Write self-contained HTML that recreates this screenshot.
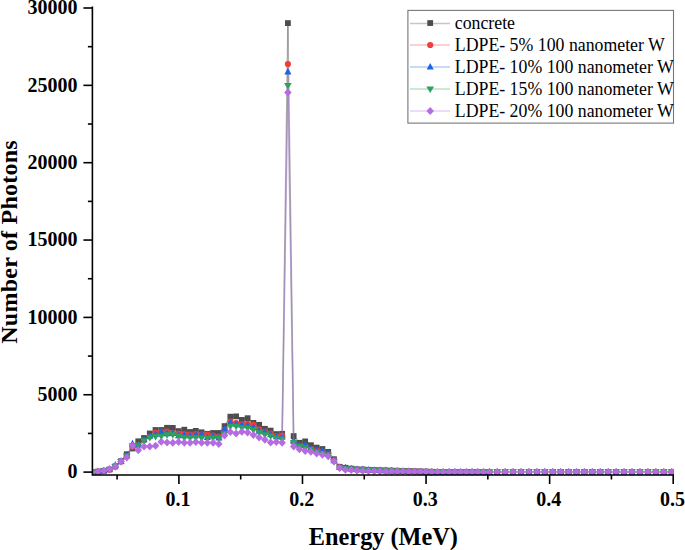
<!DOCTYPE html>
<html><head><meta charset="utf-8"><style>
html,body{margin:0;padding:0;background:#fff;}
svg{display:block;}
.tl{font-family:"Liberation Serif",serif;font-weight:bold;font-size:20px;fill:#000;stroke:none;}
.lg{font-family:"Liberation Serif",serif;font-size:17.8px;fill:#000;stroke:none;}
.ti{font-family:"Liberation Serif",serif;font-weight:bold;font-size:24.5px;fill:#000;stroke:none;}
</style></head><body>
<svg width="685" height="550" viewBox="0 0 685 550">
<rect width="685" height="550" fill="#fff"/>
<defs><clipPath id="pa"><rect x="92.4" y="0" width="581.30" height="475.60"/></clipPath></defs>
<g clip-path="url(#pa)">
<g fill="none" stroke="#4d4d4d" stroke-opacity="0.4" stroke-width="1.5"><path d="M92.23,472.20L97.98,471.60"/><path d="M97.98,471.60L103.74,470.80"/><path d="M103.74,470.80L109.49,469.50"/><path d="M109.49,469.50L115.25,466.40"/><path d="M115.25,466.40L121.00,461.20"/><path d="M121.00,461.20L126.76,454.20"/><path d="M126.76,454.20L132.51,448.50"/><path d="M132.51,448.50L138.27,441.30"/><path d="M138.27,441.30L144.02,438.00"/><path d="M144.02,438.00L149.78,433.50"/><path d="M149.78,433.50L155.53,430.00"/><path d="M155.53,430.00L161.29,430.00"/><path d="M161.29,430.00L167.04,427.80"/><path d="M167.04,427.80L172.80,427.90"/><path d="M172.80,427.90L178.55,431.10"/><path d="M178.55,431.10L184.31,429.70"/><path d="M184.31,429.70L190.06,432.00"/><path d="M190.06,432.00L195.82,430.90"/><path d="M195.82,430.90L201.57,432.30"/><path d="M201.57,432.30L207.33,433.80"/><path d="M207.33,433.80L213.08,433.00"/><path d="M213.08,433.00L218.84,433.00"/><path d="M218.84,433.00L224.59,426.10"/><path d="M224.59,426.10L230.35,416.70"/><path d="M230.35,416.70L236.10,416.40"/><path d="M236.10,416.40L241.86,419.90"/><path d="M241.86,419.90L247.61,418.20"/><path d="M247.61,418.20L253.37,422.90"/><path d="M253.37,422.90L259.12,424.80"/><path d="M259.12,424.80L264.88,428.80"/><path d="M264.88,428.80L270.63,430.60"/><path d="M270.63,430.60L276.39,434.10"/><path d="M276.39,434.10L282.14,433.80"/><path d="M282.14,433.80L287.90,23.10"/><path d="M287.90,23.10L293.65,436.10"/><path d="M293.65,436.10L299.41,442.80"/><path d="M299.41,442.80L305.16,441.40"/><path d="M305.16,441.40L310.92,445.20"/><path d="M310.92,445.20L316.67,447.60"/><path d="M316.67,447.60L322.43,449.00"/><path d="M322.43,449.00L328.18,451.90"/><path d="M328.18,451.90L333.94,459.20"/><path d="M333.94,459.20L339.69,466.80"/><path d="M339.69,466.80L345.45,467.80"/><path d="M345.45,467.80L351.20,468.60"/><path d="M351.20,468.60L356.96,469.30"/><path d="M356.96,469.30L362.71,469.50"/><path d="M362.71,469.50L368.47,469.80"/><path d="M368.47,469.80L374.22,470.07"/><path d="M374.22,470.07L379.98,470.23"/><path d="M379.98,470.23L385.73,470.40"/><path d="M385.73,470.40L391.49,470.57"/><path d="M391.49,470.57L397.25,470.73"/><path d="M397.25,470.73L403.00,470.90"/><path d="M403.00,470.90L408.75,471.07"/><path d="M408.75,471.07L414.51,471.23"/><path d="M414.51,471.23L420.26,471.40"/><path d="M420.26,471.40L426.02,471.57"/><path d="M426.02,471.57L431.77,471.73"/><path d="M431.77,471.73L437.53,471.90"/><path d="M437.53,471.90L443.28,471.90"/><path d="M443.28,471.90L449.04,471.90"/><path d="M449.04,471.90L454.79,471.90"/><path d="M454.79,471.90L460.55,471.90"/><path d="M460.55,471.90L466.30,471.90"/><path d="M466.30,471.90L472.06,471.90"/><path d="M472.06,471.90L477.81,471.90"/><path d="M477.81,471.90L483.57,471.90"/><path d="M483.57,471.90L489.32,471.90"/><path d="M489.32,471.90L497.23,471.90"/><path d="M497.23,471.90L505.16,471.90"/><path d="M505.16,471.90L513.09,471.90"/><path d="M513.09,471.90L521.02,471.90"/><path d="M521.02,471.90L528.95,471.90"/><path d="M528.95,471.90L536.88,471.90"/><path d="M536.88,471.90L544.81,471.90"/><path d="M544.81,471.90L552.74,471.90"/><path d="M552.74,471.90L560.67,471.90"/><path d="M560.67,471.90L568.60,471.90"/><path d="M568.60,471.90L576.53,471.90"/><path d="M576.53,471.90L584.46,471.90"/><path d="M584.46,471.90L592.39,471.90"/><path d="M592.39,471.90L600.32,471.90"/><path d="M600.32,471.90L608.25,471.90"/><path d="M608.25,471.90L616.18,471.90"/><path d="M616.18,471.90L624.11,471.90"/><path d="M624.11,471.90L632.04,471.90"/><path d="M632.04,471.90L639.97,471.90"/><path d="M639.97,471.90L647.90,471.90"/><path d="M647.90,471.90L655.83,471.90"/><path d="M655.83,471.90L663.76,471.90"/><path d="M663.76,471.90L671.69,471.90"/></g>
<rect x="89.33" y="469.30" width="5.80" height="5.80" fill="#4d4d4d"/><rect x="95.08" y="468.70" width="5.80" height="5.80" fill="#4d4d4d"/><rect x="100.84" y="467.90" width="5.80" height="5.80" fill="#4d4d4d"/><rect x="106.59" y="466.60" width="5.80" height="5.80" fill="#4d4d4d"/><rect x="112.35" y="463.50" width="5.80" height="5.80" fill="#4d4d4d"/><rect x="118.10" y="458.30" width="5.80" height="5.80" fill="#4d4d4d"/><rect x="123.86" y="451.30" width="5.80" height="5.80" fill="#4d4d4d"/><rect x="129.61" y="445.60" width="5.80" height="5.80" fill="#4d4d4d"/><rect x="135.37" y="438.40" width="5.80" height="5.80" fill="#4d4d4d"/><rect x="141.12" y="435.10" width="5.80" height="5.80" fill="#4d4d4d"/><rect x="146.88" y="430.60" width="5.80" height="5.80" fill="#4d4d4d"/><rect x="152.63" y="427.10" width="5.80" height="5.80" fill="#4d4d4d"/><rect x="158.39" y="427.10" width="5.80" height="5.80" fill="#4d4d4d"/><rect x="164.14" y="424.90" width="5.80" height="5.80" fill="#4d4d4d"/><rect x="169.90" y="425.00" width="5.80" height="5.80" fill="#4d4d4d"/><rect x="175.65" y="428.20" width="5.80" height="5.80" fill="#4d4d4d"/><rect x="181.41" y="426.80" width="5.80" height="5.80" fill="#4d4d4d"/><rect x="187.16" y="429.10" width="5.80" height="5.80" fill="#4d4d4d"/><rect x="192.92" y="428.00" width="5.80" height="5.80" fill="#4d4d4d"/><rect x="198.67" y="429.40" width="5.80" height="5.80" fill="#4d4d4d"/><rect x="204.43" y="430.90" width="5.80" height="5.80" fill="#4d4d4d"/><rect x="210.18" y="430.10" width="5.80" height="5.80" fill="#4d4d4d"/><rect x="215.94" y="430.10" width="5.80" height="5.80" fill="#4d4d4d"/><rect x="221.69" y="423.20" width="5.80" height="5.80" fill="#4d4d4d"/><rect x="227.45" y="413.80" width="5.80" height="5.80" fill="#4d4d4d"/><rect x="233.20" y="413.50" width="5.80" height="5.80" fill="#4d4d4d"/><rect x="238.96" y="417.00" width="5.80" height="5.80" fill="#4d4d4d"/><rect x="244.71" y="415.30" width="5.80" height="5.80" fill="#4d4d4d"/><rect x="250.47" y="420.00" width="5.80" height="5.80" fill="#4d4d4d"/><rect x="256.23" y="421.90" width="5.80" height="5.80" fill="#4d4d4d"/><rect x="261.98" y="425.90" width="5.80" height="5.80" fill="#4d4d4d"/><rect x="267.74" y="427.70" width="5.80" height="5.80" fill="#4d4d4d"/><rect x="273.49" y="431.20" width="5.80" height="5.80" fill="#4d4d4d"/><rect x="279.25" y="430.90" width="5.80" height="5.80" fill="#4d4d4d"/><rect x="285.00" y="20.20" width="5.80" height="5.80" fill="#4d4d4d"/><rect x="290.75" y="433.20" width="5.80" height="5.80" fill="#4d4d4d"/><rect x="296.51" y="439.90" width="5.80" height="5.80" fill="#4d4d4d"/><rect x="302.26" y="438.50" width="5.80" height="5.80" fill="#4d4d4d"/><rect x="308.02" y="442.30" width="5.80" height="5.80" fill="#4d4d4d"/><rect x="313.77" y="444.70" width="5.80" height="5.80" fill="#4d4d4d"/><rect x="319.53" y="446.10" width="5.80" height="5.80" fill="#4d4d4d"/><rect x="325.28" y="449.00" width="5.80" height="5.80" fill="#4d4d4d"/><rect x="331.04" y="456.30" width="5.80" height="5.80" fill="#4d4d4d"/><rect x="336.80" y="463.90" width="5.80" height="5.80" fill="#4d4d4d"/><rect x="342.55" y="464.90" width="5.80" height="5.80" fill="#4d4d4d"/><rect x="348.31" y="465.70" width="5.80" height="5.80" fill="#4d4d4d"/><rect x="354.06" y="466.40" width="5.80" height="5.80" fill="#4d4d4d"/><rect x="359.81" y="466.60" width="5.80" height="5.80" fill="#4d4d4d"/><rect x="365.57" y="466.90" width="5.80" height="5.80" fill="#4d4d4d"/><rect x="371.32" y="467.17" width="5.80" height="5.80" fill="#4d4d4d"/><rect x="377.08" y="467.33" width="5.80" height="5.80" fill="#4d4d4d"/><rect x="382.83" y="467.50" width="5.80" height="5.80" fill="#4d4d4d"/><rect x="388.59" y="467.67" width="5.80" height="5.80" fill="#4d4d4d"/><rect x="394.35" y="467.83" width="5.80" height="5.80" fill="#4d4d4d"/><rect x="400.10" y="468.00" width="5.80" height="5.80" fill="#4d4d4d"/><rect x="405.86" y="468.17" width="5.80" height="5.80" fill="#4d4d4d"/><rect x="411.61" y="468.33" width="5.80" height="5.80" fill="#4d4d4d"/><rect x="417.37" y="468.50" width="5.80" height="5.80" fill="#4d4d4d"/><rect x="423.12" y="468.67" width="5.80" height="5.80" fill="#4d4d4d"/><rect x="428.88" y="468.83" width="5.80" height="5.80" fill="#4d4d4d"/><rect x="434.63" y="469.00" width="5.80" height="5.80" fill="#4d4d4d"/><rect x="440.38" y="469.00" width="5.80" height="5.80" fill="#4d4d4d"/><rect x="446.14" y="469.00" width="5.80" height="5.80" fill="#4d4d4d"/><rect x="451.89" y="469.00" width="5.80" height="5.80" fill="#4d4d4d"/><rect x="457.65" y="469.00" width="5.80" height="5.80" fill="#4d4d4d"/><rect x="463.40" y="469.00" width="5.80" height="5.80" fill="#4d4d4d"/><rect x="469.16" y="469.00" width="5.80" height="5.80" fill="#4d4d4d"/><rect x="474.91" y="469.00" width="5.80" height="5.80" fill="#4d4d4d"/><rect x="480.67" y="469.00" width="5.80" height="5.80" fill="#4d4d4d"/><rect x="486.42" y="469.00" width="5.80" height="5.80" fill="#4d4d4d"/><rect x="494.33" y="469.00" width="5.80" height="5.80" fill="#4d4d4d"/><rect x="502.26" y="469.00" width="5.80" height="5.80" fill="#4d4d4d"/><rect x="510.19" y="469.00" width="5.80" height="5.80" fill="#4d4d4d"/><rect x="518.12" y="469.00" width="5.80" height="5.80" fill="#4d4d4d"/><rect x="526.05" y="469.00" width="5.80" height="5.80" fill="#4d4d4d"/><rect x="533.98" y="469.00" width="5.80" height="5.80" fill="#4d4d4d"/><rect x="541.91" y="469.00" width="5.80" height="5.80" fill="#4d4d4d"/><rect x="549.84" y="469.00" width="5.80" height="5.80" fill="#4d4d4d"/><rect x="557.77" y="469.00" width="5.80" height="5.80" fill="#4d4d4d"/><rect x="565.70" y="469.00" width="5.80" height="5.80" fill="#4d4d4d"/><rect x="573.63" y="469.00" width="5.80" height="5.80" fill="#4d4d4d"/><rect x="581.56" y="469.00" width="5.80" height="5.80" fill="#4d4d4d"/><rect x="589.49" y="469.00" width="5.80" height="5.80" fill="#4d4d4d"/><rect x="597.42" y="469.00" width="5.80" height="5.80" fill="#4d4d4d"/><rect x="605.35" y="469.00" width="5.80" height="5.80" fill="#4d4d4d"/><rect x="613.28" y="469.00" width="5.80" height="5.80" fill="#4d4d4d"/><rect x="621.21" y="469.00" width="5.80" height="5.80" fill="#4d4d4d"/><rect x="629.14" y="469.00" width="5.80" height="5.80" fill="#4d4d4d"/><rect x="637.07" y="469.00" width="5.80" height="5.80" fill="#4d4d4d"/><rect x="645.00" y="469.00" width="5.80" height="5.80" fill="#4d4d4d"/><rect x="652.93" y="469.00" width="5.80" height="5.80" fill="#4d4d4d"/><rect x="660.86" y="469.00" width="5.80" height="5.80" fill="#4d4d4d"/><rect x="668.79" y="469.00" width="5.80" height="5.80" fill="#4d4d4d"/>
<g fill="none" stroke="#f23c3c" stroke-opacity="0.12" stroke-width="1.5"><path d="M92.23,472.20L97.98,471.60"/><path d="M97.98,471.60L103.74,470.80"/><path d="M103.74,470.80L109.49,469.50"/><path d="M109.49,469.50L115.25,466.60"/><path d="M115.25,466.60L121.00,461.50"/><path d="M121.00,461.50L126.76,456.00"/><path d="M126.76,456.00L132.51,446.50"/><path d="M132.51,446.50L138.27,445.00"/><path d="M138.27,445.00L144.02,440.30"/><path d="M144.02,440.30L149.78,436.60"/><path d="M149.78,436.60L155.53,432.70"/><path d="M155.53,432.70L161.29,432.00"/><path d="M161.29,432.00L167.04,431.60"/><path d="M167.04,431.60L172.80,433.00"/><path d="M172.80,433.00L178.55,433.50"/><path d="M178.55,433.50L184.31,434.00"/><path d="M184.31,434.00L190.06,434.50"/><path d="M190.06,434.50L195.82,434.00"/><path d="M195.82,434.00L201.57,434.50"/><path d="M201.57,434.50L207.33,434.60"/><path d="M207.33,434.60L213.08,435.50"/><path d="M213.08,435.50L218.84,436.50"/><path d="M218.84,436.50L224.59,429.80"/><path d="M224.59,429.80L230.35,421.60"/><path d="M230.35,421.60L236.10,423.00"/><path d="M236.10,423.00L241.86,424.00"/><path d="M241.86,424.00L247.61,423.90"/><path d="M247.61,423.90L253.37,424.90"/><path d="M253.37,424.90L259.12,429.30"/><path d="M259.12,429.30L264.88,431.50"/><path d="M264.88,431.50L270.63,433.50"/><path d="M270.63,433.50L276.39,436.00"/><path d="M276.39,436.00L282.14,435.70"/><path d="M282.14,435.70L287.90,64.10"/><path d="M287.90,64.10L293.65,442.00"/><path d="M293.65,442.00L299.41,445.50"/><path d="M299.41,445.50L305.16,446.00"/><path d="M305.16,446.00L310.92,449.00"/><path d="M310.92,449.00L316.67,450.50"/><path d="M316.67,450.50L322.43,451.50"/><path d="M322.43,451.50L328.18,454.00"/><path d="M328.18,454.00L333.94,460.40"/><path d="M333.94,460.40L339.69,467.30"/><path d="M339.69,467.30L345.45,468.80"/><path d="M345.45,468.80L351.20,469.30"/><path d="M351.20,469.30L356.96,469.50"/><path d="M356.96,469.50L362.71,469.70"/><path d="M362.71,469.70L368.47,470.00"/><path d="M368.47,470.00L374.22,470.25"/><path d="M374.22,470.25L379.98,470.40"/><path d="M379.98,470.40L385.73,470.55"/><path d="M385.73,470.55L391.49,470.70"/><path d="M391.49,470.70L397.25,470.85"/><path d="M397.25,470.85L403.00,471.00"/><path d="M403.00,471.00L408.75,471.15"/><path d="M408.75,471.15L414.51,471.30"/><path d="M414.51,471.30L420.26,471.45"/><path d="M420.26,471.45L426.02,471.60"/><path d="M426.02,471.60L431.77,471.75"/><path d="M431.77,471.75L437.53,471.90"/><path d="M437.53,471.90L443.28,471.90"/><path d="M443.28,471.90L449.04,471.90"/><path d="M449.04,471.90L454.79,471.90"/><path d="M454.79,471.90L460.55,471.90"/><path d="M460.55,471.90L466.30,471.90"/><path d="M466.30,471.90L472.06,471.90"/><path d="M472.06,471.90L477.81,471.90"/><path d="M477.81,471.90L483.57,471.90"/><path d="M483.57,471.90L489.32,471.90"/><path d="M489.32,471.90L497.23,471.90"/><path d="M497.23,471.90L505.16,471.90"/><path d="M505.16,471.90L513.09,471.90"/><path d="M513.09,471.90L521.02,471.90"/><path d="M521.02,471.90L528.95,471.90"/><path d="M528.95,471.90L536.88,471.90"/><path d="M536.88,471.90L544.81,471.90"/><path d="M544.81,471.90L552.74,471.90"/><path d="M552.74,471.90L560.67,471.90"/><path d="M560.67,471.90L568.60,471.90"/><path d="M568.60,471.90L576.53,471.90"/><path d="M576.53,471.90L584.46,471.90"/><path d="M584.46,471.90L592.39,471.90"/><path d="M592.39,471.90L600.32,471.90"/><path d="M600.32,471.90L608.25,471.90"/><path d="M608.25,471.90L616.18,471.90"/><path d="M616.18,471.90L624.11,471.90"/><path d="M624.11,471.90L632.04,471.90"/><path d="M632.04,471.90L639.97,471.90"/><path d="M639.97,471.90L647.90,471.90"/><path d="M647.90,471.90L655.83,471.90"/><path d="M655.83,471.90L663.76,471.90"/><path d="M663.76,471.90L671.69,471.90"/></g>
<circle cx="92.23" cy="472.20" r="3.1" fill="#f23c3c"/><circle cx="97.98" cy="471.60" r="3.1" fill="#f23c3c"/><circle cx="103.74" cy="470.80" r="3.1" fill="#f23c3c"/><circle cx="109.49" cy="469.50" r="3.1" fill="#f23c3c"/><circle cx="115.25" cy="466.60" r="3.1" fill="#f23c3c"/><circle cx="121.00" cy="461.50" r="3.1" fill="#f23c3c"/><circle cx="126.76" cy="456.00" r="3.1" fill="#f23c3c"/><circle cx="132.51" cy="446.50" r="3.1" fill="#f23c3c"/><circle cx="138.27" cy="445.00" r="3.1" fill="#f23c3c"/><circle cx="144.02" cy="440.30" r="3.1" fill="#f23c3c"/><circle cx="149.78" cy="436.60" r="3.1" fill="#f23c3c"/><circle cx="155.53" cy="432.70" r="3.1" fill="#f23c3c"/><circle cx="161.29" cy="432.00" r="3.1" fill="#f23c3c"/><circle cx="167.04" cy="431.60" r="3.1" fill="#f23c3c"/><circle cx="172.80" cy="433.00" r="3.1" fill="#f23c3c"/><circle cx="178.55" cy="433.50" r="3.1" fill="#f23c3c"/><circle cx="184.31" cy="434.00" r="3.1" fill="#f23c3c"/><circle cx="190.06" cy="434.50" r="3.1" fill="#f23c3c"/><circle cx="195.82" cy="434.00" r="3.1" fill="#f23c3c"/><circle cx="201.57" cy="434.50" r="3.1" fill="#f23c3c"/><circle cx="207.33" cy="434.60" r="3.1" fill="#f23c3c"/><circle cx="213.08" cy="435.50" r="3.1" fill="#f23c3c"/><circle cx="218.84" cy="436.50" r="3.1" fill="#f23c3c"/><circle cx="224.59" cy="429.80" r="3.1" fill="#f23c3c"/><circle cx="230.35" cy="421.60" r="3.1" fill="#f23c3c"/><circle cx="236.10" cy="423.00" r="3.1" fill="#f23c3c"/><circle cx="241.86" cy="424.00" r="3.1" fill="#f23c3c"/><circle cx="247.61" cy="423.90" r="3.1" fill="#f23c3c"/><circle cx="253.37" cy="424.90" r="3.1" fill="#f23c3c"/><circle cx="259.12" cy="429.30" r="3.1" fill="#f23c3c"/><circle cx="264.88" cy="431.50" r="3.1" fill="#f23c3c"/><circle cx="270.63" cy="433.50" r="3.1" fill="#f23c3c"/><circle cx="276.39" cy="436.00" r="3.1" fill="#f23c3c"/><circle cx="282.14" cy="435.70" r="3.1" fill="#f23c3c"/><circle cx="287.90" cy="64.10" r="3.1" fill="#f23c3c"/><circle cx="293.65" cy="442.00" r="3.1" fill="#f23c3c"/><circle cx="299.41" cy="445.50" r="3.1" fill="#f23c3c"/><circle cx="305.16" cy="446.00" r="3.1" fill="#f23c3c"/><circle cx="310.92" cy="449.00" r="3.1" fill="#f23c3c"/><circle cx="316.67" cy="450.50" r="3.1" fill="#f23c3c"/><circle cx="322.43" cy="451.50" r="3.1" fill="#f23c3c"/><circle cx="328.18" cy="454.00" r="3.1" fill="#f23c3c"/><circle cx="333.94" cy="460.40" r="3.1" fill="#f23c3c"/><circle cx="339.69" cy="467.30" r="3.1" fill="#f23c3c"/><circle cx="345.45" cy="468.80" r="3.1" fill="#f23c3c"/><circle cx="351.20" cy="469.30" r="3.1" fill="#f23c3c"/><circle cx="356.96" cy="469.50" r="3.1" fill="#f23c3c"/><circle cx="362.71" cy="469.70" r="3.1" fill="#f23c3c"/><circle cx="368.47" cy="470.00" r="3.1" fill="#f23c3c"/><circle cx="374.22" cy="470.25" r="3.1" fill="#f23c3c"/><circle cx="379.98" cy="470.40" r="3.1" fill="#f23c3c"/><circle cx="385.73" cy="470.55" r="3.1" fill="#f23c3c"/><circle cx="391.49" cy="470.70" r="3.1" fill="#f23c3c"/><circle cx="397.25" cy="470.85" r="3.1" fill="#f23c3c"/><circle cx="403.00" cy="471.00" r="3.1" fill="#f23c3c"/><circle cx="408.75" cy="471.15" r="3.1" fill="#f23c3c"/><circle cx="414.51" cy="471.30" r="3.1" fill="#f23c3c"/><circle cx="420.26" cy="471.45" r="3.1" fill="#f23c3c"/><circle cx="426.02" cy="471.60" r="3.1" fill="#f23c3c"/><circle cx="431.77" cy="471.75" r="3.1" fill="#f23c3c"/><circle cx="437.53" cy="471.90" r="3.1" fill="#f23c3c"/><circle cx="443.28" cy="471.90" r="3.1" fill="#f23c3c"/><circle cx="449.04" cy="471.90" r="3.1" fill="#f23c3c"/><circle cx="454.79" cy="471.90" r="3.1" fill="#f23c3c"/><circle cx="460.55" cy="471.90" r="3.1" fill="#f23c3c"/><circle cx="466.30" cy="471.90" r="3.1" fill="#f23c3c"/><circle cx="472.06" cy="471.90" r="3.1" fill="#f23c3c"/><circle cx="477.81" cy="471.90" r="3.1" fill="#f23c3c"/><circle cx="483.57" cy="471.90" r="3.1" fill="#f23c3c"/><circle cx="489.32" cy="471.90" r="3.1" fill="#f23c3c"/><circle cx="497.23" cy="471.90" r="3.1" fill="#f23c3c"/><circle cx="505.16" cy="471.90" r="3.1" fill="#f23c3c"/><circle cx="513.09" cy="471.90" r="3.1" fill="#f23c3c"/><circle cx="521.02" cy="471.90" r="3.1" fill="#f23c3c"/><circle cx="528.95" cy="471.90" r="3.1" fill="#f23c3c"/><circle cx="536.88" cy="471.90" r="3.1" fill="#f23c3c"/><circle cx="544.81" cy="471.90" r="3.1" fill="#f23c3c"/><circle cx="552.74" cy="471.90" r="3.1" fill="#f23c3c"/><circle cx="560.67" cy="471.90" r="3.1" fill="#f23c3c"/><circle cx="568.60" cy="471.90" r="3.1" fill="#f23c3c"/><circle cx="576.53" cy="471.90" r="3.1" fill="#f23c3c"/><circle cx="584.46" cy="471.90" r="3.1" fill="#f23c3c"/><circle cx="592.39" cy="471.90" r="3.1" fill="#f23c3c"/><circle cx="600.32" cy="471.90" r="3.1" fill="#f23c3c"/><circle cx="608.25" cy="471.90" r="3.1" fill="#f23c3c"/><circle cx="616.18" cy="471.90" r="3.1" fill="#f23c3c"/><circle cx="624.11" cy="471.90" r="3.1" fill="#f23c3c"/><circle cx="632.04" cy="471.90" r="3.1" fill="#f23c3c"/><circle cx="639.97" cy="471.90" r="3.1" fill="#f23c3c"/><circle cx="647.90" cy="471.90" r="3.1" fill="#f23c3c"/><circle cx="655.83" cy="471.90" r="3.1" fill="#f23c3c"/><circle cx="663.76" cy="471.90" r="3.1" fill="#f23c3c"/><circle cx="671.69" cy="471.90" r="3.1" fill="#f23c3c"/>
<g fill="none" stroke="#1b65e4" stroke-opacity="0.12" stroke-width="1.5"><path d="M92.23,472.00L97.98,471.40"/><path d="M97.98,471.40L103.74,470.60"/><path d="M103.74,470.60L109.49,468.80"/><path d="M109.49,468.80L115.25,464.80"/><path d="M115.25,464.80L121.00,460.80"/><path d="M121.00,460.80L126.76,455.60"/><path d="M126.76,455.60L132.51,443.40"/><path d="M132.51,443.40L138.27,444.40"/><path d="M138.27,444.40L144.02,439.20"/><path d="M144.02,439.20L149.78,435.80"/><path d="M149.78,435.80L155.53,434.10"/><path d="M155.53,434.10L161.29,431.50"/><path d="M161.29,431.50L167.04,433.20"/><path d="M167.04,433.20L172.80,433.00"/><path d="M172.80,433.00L178.55,435.30"/><path d="M178.55,435.30L184.31,434.70"/><path d="M184.31,434.70L190.06,435.30"/><path d="M190.06,435.30L195.82,434.40"/><path d="M195.82,434.40L201.57,433.90"/><path d="M201.57,433.90L207.33,437.10"/><path d="M207.33,437.10L213.08,435.60"/><path d="M213.08,435.60L218.84,437.40"/><path d="M218.84,437.40L224.59,428.60"/><path d="M224.59,428.60L230.35,422.10"/><path d="M230.35,422.10L236.10,423.80"/><path d="M236.10,423.80L241.86,424.40"/><path d="M241.86,424.40L247.61,425.30"/><path d="M247.61,425.30L253.37,427.10"/><path d="M253.37,427.10L259.12,430.70"/><path d="M259.12,430.70L264.88,431.60"/><path d="M264.88,431.60L270.63,434.20"/><path d="M270.63,434.20L276.39,436.20"/><path d="M276.39,436.20L282.14,436.50"/><path d="M282.14,436.50L287.90,71.40"/><path d="M287.90,71.40L293.65,440.60"/><path d="M293.65,440.60L299.41,444.40"/><path d="M299.41,444.40L305.16,444.70"/><path d="M305.16,444.70L310.92,448.20"/><path d="M310.92,448.20L316.67,449.50"/><path d="M316.67,449.50L322.43,450.30"/><path d="M322.43,450.30L328.18,453.20"/><path d="M328.18,453.20L333.94,460.20"/><path d="M333.94,460.20L339.69,466.90"/><path d="M339.69,466.90L345.45,467.30"/><path d="M345.45,467.30L351.20,468.30"/><path d="M351.20,468.30L356.96,469.00"/><path d="M356.96,469.00L362.71,469.20"/><path d="M362.71,469.20L368.47,469.50"/><path d="M368.47,469.50L374.22,469.88"/><path d="M374.22,469.88L379.98,470.05"/><path d="M379.98,470.05L385.73,470.23"/><path d="M385.73,470.23L391.49,470.40"/><path d="M391.49,470.40L397.25,470.57"/><path d="M397.25,470.57L403.00,470.75"/><path d="M403.00,470.75L408.75,470.93"/><path d="M408.75,470.93L414.51,471.10"/><path d="M414.51,471.10L420.26,471.27"/><path d="M420.26,471.27L426.02,471.45"/><path d="M426.02,471.45L431.77,471.62"/><path d="M431.77,471.62L437.53,471.80"/><path d="M437.53,471.80L443.28,471.80"/><path d="M443.28,471.80L449.04,471.80"/><path d="M449.04,471.80L454.79,471.80"/><path d="M454.79,471.80L460.55,471.80"/><path d="M460.55,471.80L466.30,471.80"/><path d="M466.30,471.80L472.06,471.80"/><path d="M472.06,471.80L477.81,471.80"/><path d="M477.81,471.80L483.57,471.80"/><path d="M483.57,471.80L489.32,471.80"/><path d="M489.32,471.80L497.23,471.80"/><path d="M497.23,471.80L505.16,471.80"/><path d="M505.16,471.80L513.09,471.80"/><path d="M513.09,471.80L521.02,471.80"/><path d="M521.02,471.80L528.95,471.80"/><path d="M528.95,471.80L536.88,471.80"/><path d="M536.88,471.80L544.81,471.80"/><path d="M544.81,471.80L552.74,471.80"/><path d="M552.74,471.80L560.67,471.80"/><path d="M560.67,471.80L568.60,471.80"/><path d="M568.60,471.80L576.53,471.80"/><path d="M576.53,471.80L584.46,471.80"/><path d="M584.46,471.80L592.39,471.80"/><path d="M592.39,471.80L600.32,471.80"/><path d="M600.32,471.80L608.25,471.80"/><path d="M608.25,471.80L616.18,471.80"/><path d="M616.18,471.80L624.11,471.80"/><path d="M624.11,471.80L632.04,471.80"/><path d="M632.04,471.80L639.97,471.80"/><path d="M639.97,471.80L647.90,471.80"/><path d="M647.90,471.80L655.83,471.80"/><path d="M655.83,471.80L663.76,471.80"/><path d="M663.76,471.80L671.69,471.80"/></g>
<path d="M92.23,468.40L95.78,475.00L88.68,475.00Z" fill="#1b65e4"/><path d="M97.98,467.80L101.53,474.40L94.43,474.40Z" fill="#1b65e4"/><path d="M103.74,467.00L107.29,473.60L100.19,473.60Z" fill="#1b65e4"/><path d="M109.49,465.20L113.04,471.80L105.94,471.80Z" fill="#1b65e4"/><path d="M115.25,461.20L118.80,467.80L111.70,467.80Z" fill="#1b65e4"/><path d="M121.00,457.20L124.55,463.80L117.45,463.80Z" fill="#1b65e4"/><path d="M126.76,452.00L130.31,458.60L123.21,458.60Z" fill="#1b65e4"/><path d="M132.51,439.80L136.06,446.40L128.96,446.40Z" fill="#1b65e4"/><path d="M138.27,440.80L141.82,447.40L134.72,447.40Z" fill="#1b65e4"/><path d="M144.02,435.60L147.57,442.20L140.47,442.20Z" fill="#1b65e4"/><path d="M149.78,432.20L153.33,438.80L146.23,438.80Z" fill="#1b65e4"/><path d="M155.53,430.50L159.08,437.10L151.98,437.10Z" fill="#1b65e4"/><path d="M161.29,427.90L164.84,434.50L157.74,434.50Z" fill="#1b65e4"/><path d="M167.04,429.60L170.59,436.20L163.49,436.20Z" fill="#1b65e4"/><path d="M172.80,429.40L176.35,436.00L169.25,436.00Z" fill="#1b65e4"/><path d="M178.55,431.70L182.10,438.30L175.00,438.30Z" fill="#1b65e4"/><path d="M184.31,431.10L187.86,437.70L180.76,437.70Z" fill="#1b65e4"/><path d="M190.06,431.70L193.62,438.30L186.51,438.30Z" fill="#1b65e4"/><path d="M195.82,430.80L199.37,437.40L192.27,437.40Z" fill="#1b65e4"/><path d="M201.57,430.30L205.12,436.90L198.02,436.90Z" fill="#1b65e4"/><path d="M207.33,433.50L210.88,440.10L203.78,440.10Z" fill="#1b65e4"/><path d="M213.08,432.00L216.63,438.60L209.53,438.60Z" fill="#1b65e4"/><path d="M218.84,433.80L222.39,440.40L215.29,440.40Z" fill="#1b65e4"/><path d="M224.59,425.00L228.14,431.60L221.04,431.60Z" fill="#1b65e4"/><path d="M230.35,418.50L233.90,425.10L226.80,425.10Z" fill="#1b65e4"/><path d="M236.10,420.20L239.65,426.80L232.55,426.80Z" fill="#1b65e4"/><path d="M241.86,420.80L245.41,427.40L238.31,427.40Z" fill="#1b65e4"/><path d="M247.61,421.70L251.16,428.30L244.06,428.30Z" fill="#1b65e4"/><path d="M253.37,423.50L256.92,430.10L249.82,430.10Z" fill="#1b65e4"/><path d="M259.12,427.10L262.68,433.70L255.57,433.70Z" fill="#1b65e4"/><path d="M264.88,428.00L268.43,434.60L261.33,434.60Z" fill="#1b65e4"/><path d="M270.63,430.60L274.19,437.20L267.08,437.20Z" fill="#1b65e4"/><path d="M276.39,432.60L279.94,439.20L272.84,439.20Z" fill="#1b65e4"/><path d="M282.14,432.90L285.69,439.50L278.59,439.50Z" fill="#1b65e4"/><path d="M287.90,67.80L291.45,74.40L284.35,74.40Z" fill="#1b65e4"/><path d="M293.65,437.00L297.20,443.60L290.10,443.60Z" fill="#1b65e4"/><path d="M299.41,440.80L302.96,447.40L295.86,447.40Z" fill="#1b65e4"/><path d="M305.16,441.10L308.71,447.70L301.61,447.70Z" fill="#1b65e4"/><path d="M310.92,444.60L314.47,451.20L307.37,451.20Z" fill="#1b65e4"/><path d="M316.67,445.90L320.22,452.50L313.12,452.50Z" fill="#1b65e4"/><path d="M322.43,446.70L325.98,453.30L318.88,453.30Z" fill="#1b65e4"/><path d="M328.18,449.60L331.73,456.20L324.63,456.20Z" fill="#1b65e4"/><path d="M333.94,456.60L337.49,463.20L330.39,463.20Z" fill="#1b65e4"/><path d="M339.69,463.30L343.25,469.90L336.14,469.90Z" fill="#1b65e4"/><path d="M345.45,463.70L349.00,470.30L341.90,470.30Z" fill="#1b65e4"/><path d="M351.20,464.70L354.75,471.30L347.65,471.30Z" fill="#1b65e4"/><path d="M356.96,465.40L360.51,472.00L353.41,472.00Z" fill="#1b65e4"/><path d="M362.71,465.60L366.26,472.20L359.16,472.20Z" fill="#1b65e4"/><path d="M368.47,465.90L372.02,472.50L364.92,472.50Z" fill="#1b65e4"/><path d="M374.22,466.27L377.77,472.88L370.67,472.88Z" fill="#1b65e4"/><path d="M379.98,466.45L383.53,473.05L376.43,473.05Z" fill="#1b65e4"/><path d="M385.73,466.62L389.28,473.23L382.18,473.23Z" fill="#1b65e4"/><path d="M391.49,466.80L395.04,473.40L387.94,473.40Z" fill="#1b65e4"/><path d="M397.25,466.97L400.80,473.57L393.69,473.57Z" fill="#1b65e4"/><path d="M403.00,467.15L406.55,473.75L399.45,473.75Z" fill="#1b65e4"/><path d="M408.75,467.32L412.31,473.93L405.20,473.93Z" fill="#1b65e4"/><path d="M414.51,467.50L418.06,474.10L410.96,474.10Z" fill="#1b65e4"/><path d="M420.26,467.67L423.81,474.27L416.71,474.27Z" fill="#1b65e4"/><path d="M426.02,467.85L429.57,474.45L422.47,474.45Z" fill="#1b65e4"/><path d="M431.77,468.02L435.32,474.62L428.22,474.62Z" fill="#1b65e4"/><path d="M437.53,468.20L441.08,474.80L433.98,474.80Z" fill="#1b65e4"/><path d="M443.28,468.20L446.83,474.80L439.73,474.80Z" fill="#1b65e4"/><path d="M449.04,468.20L452.59,474.80L445.49,474.80Z" fill="#1b65e4"/><path d="M454.79,468.20L458.34,474.80L451.24,474.80Z" fill="#1b65e4"/><path d="M460.55,468.20L464.10,474.80L457.00,474.80Z" fill="#1b65e4"/><path d="M466.30,468.20L469.85,474.80L462.75,474.80Z" fill="#1b65e4"/><path d="M472.06,468.20L475.61,474.80L468.51,474.80Z" fill="#1b65e4"/><path d="M477.81,468.20L481.36,474.80L474.26,474.80Z" fill="#1b65e4"/><path d="M483.57,468.20L487.12,474.80L480.02,474.80Z" fill="#1b65e4"/><path d="M489.32,468.20L492.87,474.80L485.77,474.80Z" fill="#1b65e4"/><path d="M497.23,468.20L500.78,474.80L493.68,474.80Z" fill="#1b65e4"/><path d="M505.16,468.20L508.71,474.80L501.61,474.80Z" fill="#1b65e4"/><path d="M513.09,468.20L516.64,474.80L509.54,474.80Z" fill="#1b65e4"/><path d="M521.02,468.20L524.57,474.80L517.47,474.80Z" fill="#1b65e4"/><path d="M528.95,468.20L532.50,474.80L525.40,474.80Z" fill="#1b65e4"/><path d="M536.88,468.20L540.43,474.80L533.33,474.80Z" fill="#1b65e4"/><path d="M544.81,468.20L548.36,474.80L541.26,474.80Z" fill="#1b65e4"/><path d="M552.74,468.20L556.29,474.80L549.19,474.80Z" fill="#1b65e4"/><path d="M560.67,468.20L564.22,474.80L557.12,474.80Z" fill="#1b65e4"/><path d="M568.60,468.20L572.15,474.80L565.05,474.80Z" fill="#1b65e4"/><path d="M576.53,468.20L580.08,474.80L572.98,474.80Z" fill="#1b65e4"/><path d="M584.46,468.20L588.01,474.80L580.91,474.80Z" fill="#1b65e4"/><path d="M592.39,468.20L595.94,474.80L588.84,474.80Z" fill="#1b65e4"/><path d="M600.32,468.20L603.87,474.80L596.77,474.80Z" fill="#1b65e4"/><path d="M608.25,468.20L611.80,474.80L604.70,474.80Z" fill="#1b65e4"/><path d="M616.18,468.20L619.73,474.80L612.63,474.80Z" fill="#1b65e4"/><path d="M624.11,468.20L627.66,474.80L620.56,474.80Z" fill="#1b65e4"/><path d="M632.04,468.20L635.59,474.80L628.49,474.80Z" fill="#1b65e4"/><path d="M639.97,468.20L643.52,474.80L636.42,474.80Z" fill="#1b65e4"/><path d="M647.90,468.20L651.45,474.80L644.35,474.80Z" fill="#1b65e4"/><path d="M655.83,468.20L659.38,474.80L652.28,474.80Z" fill="#1b65e4"/><path d="M663.76,468.20L667.31,474.80L660.21,474.80Z" fill="#1b65e4"/><path d="M671.69,468.20L675.24,474.80L668.14,474.80Z" fill="#1b65e4"/>
<g fill="none" stroke="#2ba35c" stroke-opacity="0.12" stroke-width="1.5"><path d="M92.23,472.40L97.98,471.90"/><path d="M97.98,471.90L103.74,471.00"/><path d="M103.74,471.00L109.49,469.80"/><path d="M109.49,469.80L115.25,466.80"/><path d="M115.25,466.80L121.00,461.80"/><path d="M121.00,461.80L126.76,456.30"/><path d="M126.76,456.30L132.51,446.00"/><path d="M132.51,446.00L138.27,445.50"/><path d="M138.27,445.50L144.02,440.90"/><path d="M144.02,440.90L149.78,437.80"/><path d="M149.78,437.80L155.53,436.60"/><path d="M155.53,436.60L161.29,436.40"/><path d="M161.29,436.40L167.04,435.00"/><path d="M167.04,435.00L172.80,435.00"/><path d="M172.80,435.00L178.55,436.50"/><path d="M178.55,436.50L184.31,438.00"/><path d="M184.31,438.00L190.06,438.00"/><path d="M190.06,438.00L195.82,438.00"/><path d="M195.82,438.00L201.57,438.20"/><path d="M201.57,438.20L207.33,438.20"/><path d="M207.33,438.20L213.08,438.20"/><path d="M213.08,438.20L218.84,438.20"/><path d="M218.84,438.20L224.59,433.90"/><path d="M224.59,433.90L230.35,426.40"/><path d="M230.35,426.40L236.10,426.40"/><path d="M236.10,426.40L241.86,427.90"/><path d="M241.86,427.90L247.61,428.20"/><path d="M247.61,428.20L253.37,430.10"/><path d="M253.37,430.10L259.12,433.00"/><path d="M259.12,433.00L264.88,435.00"/><path d="M264.88,435.00L270.63,436.20"/><path d="M270.63,436.20L276.39,438.20"/><path d="M276.39,438.20L282.14,439.40"/><path d="M282.14,439.40L287.90,85.70"/><path d="M287.90,85.70L293.65,442.90"/><path d="M293.65,442.90L299.41,446.70"/><path d="M299.41,446.70L305.16,447.90"/><path d="M305.16,447.90L310.92,449.60"/><path d="M310.92,449.60L316.67,452.00"/><path d="M316.67,452.00L322.43,454.00"/><path d="M322.43,454.00L328.18,455.20"/><path d="M328.18,455.20L333.94,461.60"/><path d="M333.94,461.60L339.69,467.60"/><path d="M339.69,467.60L345.45,469.00"/><path d="M345.45,469.00L351.20,469.30"/><path d="M351.20,469.30L356.96,470.00"/><path d="M356.96,470.00L362.71,470.30"/><path d="M362.71,470.30L368.47,470.60"/><path d="M368.47,470.60L374.22,470.80"/><path d="M374.22,470.80L379.98,470.90"/><path d="M379.98,470.90L385.73,471.00"/><path d="M385.73,471.00L391.49,471.10"/><path d="M391.49,471.10L397.25,471.20"/><path d="M397.25,471.20L403.00,471.30"/><path d="M403.00,471.30L408.75,471.40"/><path d="M408.75,471.40L414.51,471.50"/><path d="M414.51,471.50L420.26,471.60"/><path d="M420.26,471.60L426.02,471.70"/><path d="M426.02,471.70L431.77,471.80"/><path d="M431.77,471.80L437.53,471.90"/><path d="M437.53,471.90L443.28,471.90"/><path d="M443.28,471.90L449.04,471.90"/><path d="M449.04,471.90L454.79,471.90"/><path d="M454.79,471.90L460.55,471.90"/><path d="M460.55,471.90L466.30,471.90"/><path d="M466.30,471.90L472.06,471.90"/><path d="M472.06,471.90L477.81,471.90"/><path d="M477.81,471.90L483.57,471.90"/><path d="M483.57,471.90L489.32,471.90"/><path d="M489.32,471.90L497.23,471.90"/><path d="M497.23,471.90L505.16,471.90"/><path d="M505.16,471.90L513.09,471.90"/><path d="M513.09,471.90L521.02,471.90"/><path d="M521.02,471.90L528.95,471.90"/><path d="M528.95,471.90L536.88,471.90"/><path d="M536.88,471.90L544.81,471.90"/><path d="M544.81,471.90L552.74,471.90"/><path d="M552.74,471.90L560.67,471.90"/><path d="M560.67,471.90L568.60,471.90"/><path d="M568.60,471.90L576.53,471.90"/><path d="M576.53,471.90L584.46,471.90"/><path d="M584.46,471.90L592.39,471.90"/><path d="M592.39,471.90L600.32,471.90"/><path d="M600.32,471.90L608.25,471.90"/><path d="M608.25,471.90L616.18,471.90"/><path d="M616.18,471.90L624.11,471.90"/><path d="M624.11,471.90L632.04,471.90"/><path d="M632.04,471.90L639.97,471.90"/><path d="M639.97,471.90L647.90,471.90"/><path d="M647.90,471.90L655.83,471.90"/><path d="M655.83,471.90L663.76,471.90"/><path d="M663.76,471.90L671.69,471.90"/></g>
<path d="M92.23,476.20L96.08,469.70L88.38,469.70Z" fill="#2ba35c"/><path d="M97.98,475.70L101.83,469.20L94.13,469.20Z" fill="#2ba35c"/><path d="M103.74,474.80L107.59,468.30L99.89,468.30Z" fill="#2ba35c"/><path d="M109.49,473.60L113.34,467.10L105.64,467.10Z" fill="#2ba35c"/><path d="M115.25,470.60L119.10,464.10L111.40,464.10Z" fill="#2ba35c"/><path d="M121.00,465.60L124.85,459.10L117.15,459.10Z" fill="#2ba35c"/><path d="M126.76,460.10L130.61,453.60L122.91,453.60Z" fill="#2ba35c"/><path d="M132.51,449.80L136.36,443.30L128.66,443.30Z" fill="#2ba35c"/><path d="M138.27,449.30L142.12,442.80L134.42,442.80Z" fill="#2ba35c"/><path d="M144.02,444.70L147.87,438.20L140.17,438.20Z" fill="#2ba35c"/><path d="M149.78,441.60L153.63,435.10L145.93,435.10Z" fill="#2ba35c"/><path d="M155.53,440.40L159.38,433.90L151.68,433.90Z" fill="#2ba35c"/><path d="M161.29,440.20L165.14,433.70L157.44,433.70Z" fill="#2ba35c"/><path d="M167.04,438.80L170.89,432.30L163.19,432.30Z" fill="#2ba35c"/><path d="M172.80,438.80L176.65,432.30L168.95,432.30Z" fill="#2ba35c"/><path d="M178.55,440.30L182.40,433.80L174.70,433.80Z" fill="#2ba35c"/><path d="M184.31,441.80L188.16,435.30L180.46,435.30Z" fill="#2ba35c"/><path d="M190.06,441.80L193.91,435.30L186.22,435.30Z" fill="#2ba35c"/><path d="M195.82,441.80L199.67,435.30L191.97,435.30Z" fill="#2ba35c"/><path d="M201.57,442.00L205.42,435.50L197.72,435.50Z" fill="#2ba35c"/><path d="M207.33,442.00L211.18,435.50L203.48,435.50Z" fill="#2ba35c"/><path d="M213.08,442.00L216.93,435.50L209.23,435.50Z" fill="#2ba35c"/><path d="M218.84,442.00L222.69,435.50L214.99,435.50Z" fill="#2ba35c"/><path d="M224.59,437.70L228.44,431.20L220.74,431.20Z" fill="#2ba35c"/><path d="M230.35,430.20L234.20,423.70L226.50,423.70Z" fill="#2ba35c"/><path d="M236.10,430.20L239.95,423.70L232.25,423.70Z" fill="#2ba35c"/><path d="M241.86,431.70L245.71,425.20L238.01,425.20Z" fill="#2ba35c"/><path d="M247.61,432.00L251.46,425.50L243.76,425.50Z" fill="#2ba35c"/><path d="M253.37,433.90L257.22,427.40L249.52,427.40Z" fill="#2ba35c"/><path d="M259.12,436.80L262.98,430.30L255.28,430.30Z" fill="#2ba35c"/><path d="M264.88,438.80L268.73,432.30L261.03,432.30Z" fill="#2ba35c"/><path d="M270.63,440.00L274.49,433.50L266.78,433.50Z" fill="#2ba35c"/><path d="M276.39,442.00L280.24,435.50L272.54,435.50Z" fill="#2ba35c"/><path d="M282.14,443.20L286.00,436.70L278.29,436.70Z" fill="#2ba35c"/><path d="M287.90,89.50L291.75,83.00L284.05,83.00Z" fill="#2ba35c"/><path d="M293.65,446.70L297.50,440.20L289.80,440.20Z" fill="#2ba35c"/><path d="M299.41,450.50L303.26,444.00L295.56,444.00Z" fill="#2ba35c"/><path d="M305.16,451.70L309.01,445.20L301.31,445.20Z" fill="#2ba35c"/><path d="M310.92,453.40L314.77,446.90L307.07,446.90Z" fill="#2ba35c"/><path d="M316.67,455.80L320.52,449.30L312.82,449.30Z" fill="#2ba35c"/><path d="M322.43,457.80L326.28,451.30L318.58,451.30Z" fill="#2ba35c"/><path d="M328.18,459.00L332.03,452.50L324.33,452.50Z" fill="#2ba35c"/><path d="M333.94,465.40L337.79,458.90L330.09,458.90Z" fill="#2ba35c"/><path d="M339.69,471.40L343.55,464.90L335.84,464.90Z" fill="#2ba35c"/><path d="M345.45,472.80L349.30,466.30L341.60,466.30Z" fill="#2ba35c"/><path d="M351.20,473.10L355.06,466.60L347.35,466.60Z" fill="#2ba35c"/><path d="M356.96,473.80L360.81,467.30L353.11,467.30Z" fill="#2ba35c"/><path d="M362.71,474.10L366.56,467.60L358.86,467.60Z" fill="#2ba35c"/><path d="M368.47,474.40L372.32,467.90L364.62,467.90Z" fill="#2ba35c"/><path d="M374.22,474.60L378.07,468.10L370.37,468.10Z" fill="#2ba35c"/><path d="M379.98,474.70L383.83,468.20L376.13,468.20Z" fill="#2ba35c"/><path d="M385.73,474.80L389.58,468.30L381.88,468.30Z" fill="#2ba35c"/><path d="M391.49,474.90L395.34,468.40L387.64,468.40Z" fill="#2ba35c"/><path d="M397.25,475.00L401.10,468.50L393.39,468.50Z" fill="#2ba35c"/><path d="M403.00,475.10L406.85,468.60L399.15,468.60Z" fill="#2ba35c"/><path d="M408.75,475.20L412.61,468.70L404.90,468.70Z" fill="#2ba35c"/><path d="M414.51,475.30L418.36,468.80L410.66,468.80Z" fill="#2ba35c"/><path d="M420.26,475.40L424.12,468.90L416.41,468.90Z" fill="#2ba35c"/><path d="M426.02,475.50L429.87,469.00L422.17,469.00Z" fill="#2ba35c"/><path d="M431.77,475.60L435.62,469.10L427.92,469.10Z" fill="#2ba35c"/><path d="M437.53,475.70L441.38,469.20L433.68,469.20Z" fill="#2ba35c"/><path d="M443.28,475.70L447.13,469.20L439.43,469.20Z" fill="#2ba35c"/><path d="M449.04,475.70L452.89,469.20L445.19,469.20Z" fill="#2ba35c"/><path d="M454.79,475.70L458.64,469.20L450.94,469.20Z" fill="#2ba35c"/><path d="M460.55,475.70L464.40,469.20L456.70,469.20Z" fill="#2ba35c"/><path d="M466.30,475.70L470.15,469.20L462.45,469.20Z" fill="#2ba35c"/><path d="M472.06,475.70L475.91,469.20L468.21,469.20Z" fill="#2ba35c"/><path d="M477.81,475.70L481.66,469.20L473.96,469.20Z" fill="#2ba35c"/><path d="M483.57,475.70L487.42,469.20L479.72,469.20Z" fill="#2ba35c"/><path d="M489.32,475.70L493.17,469.20L485.47,469.20Z" fill="#2ba35c"/><path d="M497.23,475.70L501.08,469.20L493.38,469.20Z" fill="#2ba35c"/><path d="M505.16,475.70L509.01,469.20L501.31,469.20Z" fill="#2ba35c"/><path d="M513.09,475.70L516.94,469.20L509.24,469.20Z" fill="#2ba35c"/><path d="M521.02,475.70L524.87,469.20L517.17,469.20Z" fill="#2ba35c"/><path d="M528.95,475.70L532.80,469.20L525.10,469.20Z" fill="#2ba35c"/><path d="M536.88,475.70L540.73,469.20L533.03,469.20Z" fill="#2ba35c"/><path d="M544.81,475.70L548.66,469.20L540.96,469.20Z" fill="#2ba35c"/><path d="M552.74,475.70L556.59,469.20L548.89,469.20Z" fill="#2ba35c"/><path d="M560.67,475.70L564.52,469.20L556.82,469.20Z" fill="#2ba35c"/><path d="M568.60,475.70L572.45,469.20L564.75,469.20Z" fill="#2ba35c"/><path d="M576.53,475.70L580.38,469.20L572.68,469.20Z" fill="#2ba35c"/><path d="M584.46,475.70L588.31,469.20L580.61,469.20Z" fill="#2ba35c"/><path d="M592.39,475.70L596.24,469.20L588.54,469.20Z" fill="#2ba35c"/><path d="M600.32,475.70L604.17,469.20L596.47,469.20Z" fill="#2ba35c"/><path d="M608.25,475.70L612.10,469.20L604.40,469.20Z" fill="#2ba35c"/><path d="M616.18,475.70L620.03,469.20L612.33,469.20Z" fill="#2ba35c"/><path d="M624.11,475.70L627.96,469.20L620.26,469.20Z" fill="#2ba35c"/><path d="M632.04,475.70L635.89,469.20L628.19,469.20Z" fill="#2ba35c"/><path d="M639.97,475.70L643.82,469.20L636.12,469.20Z" fill="#2ba35c"/><path d="M647.90,475.70L651.75,469.20L644.05,469.20Z" fill="#2ba35c"/><path d="M655.83,475.70L659.68,469.20L651.98,469.20Z" fill="#2ba35c"/><path d="M663.76,475.70L667.61,469.20L659.91,469.20Z" fill="#2ba35c"/><path d="M671.69,475.70L675.54,469.20L667.84,469.20Z" fill="#2ba35c"/>
<g fill="none" stroke="#b46ce0" stroke-opacity="0.35" stroke-width="1.5"><path d="M92.23,472.40L97.98,471.60"/><path d="M97.98,471.60L103.74,470.80"/><path d="M103.74,470.80L109.49,469.30"/><path d="M109.49,469.30L115.25,466.60"/><path d="M115.25,466.60L121.00,461.50"/><path d="M121.00,461.50L126.76,457.50"/><path d="M126.76,457.50L132.51,445.80"/><path d="M132.51,445.80L138.27,450.20"/><path d="M138.27,450.20L144.02,446.50"/><path d="M144.02,446.50L149.78,446.50"/><path d="M149.78,446.50L155.53,445.80"/><path d="M155.53,445.80L161.29,441.80"/><path d="M161.29,441.80L167.04,442.40"/><path d="M167.04,442.40L172.80,442.70"/><path d="M172.80,442.70L178.55,442.10"/><path d="M178.55,442.10L184.31,442.70"/><path d="M184.31,442.70L190.06,442.70"/><path d="M190.06,442.70L195.82,442.10"/><path d="M195.82,442.10L201.57,442.70"/><path d="M201.57,442.70L207.33,442.70"/><path d="M207.33,442.70L213.08,442.70"/><path d="M213.08,442.70L218.84,443.90"/><path d="M218.84,443.90L224.59,435.40"/><path d="M224.59,435.40L230.35,432.10"/><path d="M230.35,432.10L236.10,433.50"/><path d="M236.10,433.50L241.86,431.80"/><path d="M241.86,431.80L247.61,432.40"/><path d="M247.61,432.40L253.37,434.90"/><path d="M253.37,434.90L259.12,437.50"/><path d="M259.12,437.50L264.88,439.80"/><path d="M264.88,439.80L270.63,442.40"/><path d="M270.63,442.40L276.39,442.10"/><path d="M276.39,442.10L282.14,442.70"/><path d="M282.14,442.70L287.90,92.50"/><path d="M287.90,92.50L293.65,446.50"/><path d="M293.65,446.50L299.41,449.20"/><path d="M299.41,449.20L305.16,450.90"/><path d="M305.16,450.90L310.92,451.80"/><path d="M310.92,451.80L316.67,453.50"/><path d="M316.67,453.50L322.43,454.70"/><path d="M322.43,454.70L328.18,456.20"/><path d="M328.18,456.20L333.94,461.30"/><path d="M333.94,461.30L339.69,468.10"/><path d="M339.69,468.10L345.45,469.70"/><path d="M345.45,469.70L351.20,469.90"/><path d="M351.20,469.90L356.96,470.60"/><path d="M356.96,470.60L362.71,470.80"/><path d="M362.71,470.80L368.47,471.10"/><path d="M368.47,471.10L374.22,471.27"/><path d="M374.22,471.27L379.98,471.33"/><path d="M379.98,471.33L385.73,471.40"/><path d="M385.73,471.40L391.49,471.47"/><path d="M391.49,471.47L397.25,471.53"/><path d="M397.25,471.53L403.00,471.60"/><path d="M403.00,471.60L408.75,471.67"/><path d="M408.75,471.67L414.51,471.73"/><path d="M414.51,471.73L420.26,471.80"/><path d="M420.26,471.80L426.02,471.87"/><path d="M426.02,471.87L431.77,471.93"/><path d="M431.77,471.93L437.53,472.00"/><path d="M437.53,472.00L443.28,472.00"/><path d="M443.28,472.00L449.04,472.00"/><path d="M449.04,472.00L454.79,472.00"/><path d="M454.79,472.00L460.55,472.00"/><path d="M460.55,472.00L466.30,472.00"/><path d="M466.30,472.00L472.06,472.00"/><path d="M472.06,472.00L477.81,472.00"/><path d="M477.81,472.00L483.57,472.00"/><path d="M483.57,472.00L489.32,472.00"/><path d="M489.32,472.00L497.23,472.00"/><path d="M497.23,472.00L505.16,472.00"/><path d="M505.16,472.00L513.09,472.00"/><path d="M513.09,472.00L521.02,472.00"/><path d="M521.02,472.00L528.95,472.00"/><path d="M528.95,472.00L536.88,472.00"/><path d="M536.88,472.00L544.81,472.00"/><path d="M544.81,472.00L552.74,472.00"/><path d="M552.74,472.00L560.67,472.00"/><path d="M560.67,472.00L568.60,472.00"/><path d="M568.60,472.00L576.53,472.00"/><path d="M576.53,472.00L584.46,472.00"/><path d="M584.46,472.00L592.39,472.00"/><path d="M592.39,472.00L600.32,472.00"/><path d="M600.32,472.00L608.25,472.00"/><path d="M608.25,472.00L616.18,472.00"/><path d="M616.18,472.00L624.11,472.00"/><path d="M624.11,472.00L632.04,472.00"/><path d="M632.04,472.00L639.97,472.00"/><path d="M639.97,472.00L647.90,472.00"/><path d="M647.90,472.00L655.83,472.00"/><path d="M655.83,472.00L663.76,472.00"/><path d="M663.76,472.00L671.69,472.00"/></g>
<path d="M92.23,468.40L95.98,472.40L92.23,476.40L88.48,472.40Z" fill="#b46ce0"/><path d="M97.98,467.60L101.73,471.60L97.98,475.60L94.23,471.60Z" fill="#b46ce0"/><path d="M103.74,466.80L107.49,470.80L103.74,474.80L99.99,470.80Z" fill="#b46ce0"/><path d="M109.49,465.30L113.24,469.30L109.49,473.30L105.74,469.30Z" fill="#b46ce0"/><path d="M115.25,462.60L119.00,466.60L115.25,470.60L111.50,466.60Z" fill="#b46ce0"/><path d="M121.00,457.50L124.75,461.50L121.00,465.50L117.25,461.50Z" fill="#b46ce0"/><path d="M126.76,453.50L130.51,457.50L126.76,461.50L123.01,457.50Z" fill="#b46ce0"/><path d="M132.51,441.80L136.26,445.80L132.51,449.80L128.76,445.80Z" fill="#b46ce0"/><path d="M138.27,446.20L142.02,450.20L138.27,454.20L134.52,450.20Z" fill="#b46ce0"/><path d="M144.02,442.50L147.77,446.50L144.02,450.50L140.27,446.50Z" fill="#b46ce0"/><path d="M149.78,442.50L153.53,446.50L149.78,450.50L146.03,446.50Z" fill="#b46ce0"/><path d="M155.53,441.80L159.28,445.80L155.53,449.80L151.78,445.80Z" fill="#b46ce0"/><path d="M161.29,437.80L165.04,441.80L161.29,445.80L157.54,441.80Z" fill="#b46ce0"/><path d="M167.04,438.40L170.79,442.40L167.04,446.40L163.29,442.40Z" fill="#b46ce0"/><path d="M172.80,438.70L176.55,442.70L172.80,446.70L169.05,442.70Z" fill="#b46ce0"/><path d="M178.55,438.10L182.30,442.10L178.55,446.10L174.80,442.10Z" fill="#b46ce0"/><path d="M184.31,438.70L188.06,442.70L184.31,446.70L180.56,442.70Z" fill="#b46ce0"/><path d="M190.06,438.70L193.81,442.70L190.06,446.70L186.31,442.70Z" fill="#b46ce0"/><path d="M195.82,438.10L199.57,442.10L195.82,446.10L192.07,442.10Z" fill="#b46ce0"/><path d="M201.57,438.70L205.32,442.70L201.57,446.70L197.82,442.70Z" fill="#b46ce0"/><path d="M207.33,438.70L211.08,442.70L207.33,446.70L203.58,442.70Z" fill="#b46ce0"/><path d="M213.08,438.70L216.83,442.70L213.08,446.70L209.33,442.70Z" fill="#b46ce0"/><path d="M218.84,439.90L222.59,443.90L218.84,447.90L215.09,443.90Z" fill="#b46ce0"/><path d="M224.59,431.40L228.34,435.40L224.59,439.40L220.84,435.40Z" fill="#b46ce0"/><path d="M230.35,428.10L234.10,432.10L230.35,436.10L226.60,432.10Z" fill="#b46ce0"/><path d="M236.10,429.50L239.85,433.50L236.10,437.50L232.35,433.50Z" fill="#b46ce0"/><path d="M241.86,427.80L245.61,431.80L241.86,435.80L238.11,431.80Z" fill="#b46ce0"/><path d="M247.61,428.40L251.36,432.40L247.61,436.40L243.86,432.40Z" fill="#b46ce0"/><path d="M253.37,430.90L257.12,434.90L253.37,438.90L249.62,434.90Z" fill="#b46ce0"/><path d="M259.12,433.50L262.88,437.50L259.12,441.50L255.38,437.50Z" fill="#b46ce0"/><path d="M264.88,435.80L268.63,439.80L264.88,443.80L261.13,439.80Z" fill="#b46ce0"/><path d="M270.63,438.40L274.38,442.40L270.63,446.40L266.88,442.40Z" fill="#b46ce0"/><path d="M276.39,438.10L280.14,442.10L276.39,446.10L272.64,442.10Z" fill="#b46ce0"/><path d="M282.14,438.70L285.89,442.70L282.14,446.70L278.39,442.70Z" fill="#b46ce0"/><path d="M287.90,88.50L291.65,92.50L287.90,96.50L284.15,92.50Z" fill="#b46ce0"/><path d="M293.65,442.50L297.40,446.50L293.65,450.50L289.90,446.50Z" fill="#b46ce0"/><path d="M299.41,445.20L303.16,449.20L299.41,453.20L295.66,449.20Z" fill="#b46ce0"/><path d="M305.16,446.90L308.91,450.90L305.16,454.90L301.41,450.90Z" fill="#b46ce0"/><path d="M310.92,447.80L314.67,451.80L310.92,455.80L307.17,451.80Z" fill="#b46ce0"/><path d="M316.67,449.50L320.42,453.50L316.67,457.50L312.92,453.50Z" fill="#b46ce0"/><path d="M322.43,450.70L326.18,454.70L322.43,458.70L318.68,454.70Z" fill="#b46ce0"/><path d="M328.18,452.20L331.93,456.20L328.18,460.20L324.43,456.20Z" fill="#b46ce0"/><path d="M333.94,457.30L337.69,461.30L333.94,465.30L330.19,461.30Z" fill="#b46ce0"/><path d="M339.69,464.10L343.44,468.10L339.69,472.10L335.94,468.10Z" fill="#b46ce0"/><path d="M345.45,465.70L349.20,469.70L345.45,473.70L341.70,469.70Z" fill="#b46ce0"/><path d="M351.20,465.90L354.95,469.90L351.20,473.90L347.45,469.90Z" fill="#b46ce0"/><path d="M356.96,466.60L360.71,470.60L356.96,474.60L353.21,470.60Z" fill="#b46ce0"/><path d="M362.71,466.80L366.46,470.80L362.71,474.80L358.96,470.80Z" fill="#b46ce0"/><path d="M368.47,467.10L372.22,471.10L368.47,475.10L364.72,471.10Z" fill="#b46ce0"/><path d="M374.22,467.27L377.97,471.27L374.22,475.27L370.47,471.27Z" fill="#b46ce0"/><path d="M379.98,467.33L383.73,471.33L379.98,475.33L376.23,471.33Z" fill="#b46ce0"/><path d="M385.73,467.40L389.48,471.40L385.73,475.40L381.98,471.40Z" fill="#b46ce0"/><path d="M391.49,467.47L395.24,471.47L391.49,475.47L387.74,471.47Z" fill="#b46ce0"/><path d="M397.25,467.53L401.00,471.53L397.25,475.53L393.50,471.53Z" fill="#b46ce0"/><path d="M403.00,467.60L406.75,471.60L403.00,475.60L399.25,471.60Z" fill="#b46ce0"/><path d="M408.75,467.67L412.50,471.67L408.75,475.67L405.00,471.67Z" fill="#b46ce0"/><path d="M414.51,467.73L418.26,471.73L414.51,475.73L410.76,471.73Z" fill="#b46ce0"/><path d="M420.26,467.80L424.01,471.80L420.26,475.80L416.51,471.80Z" fill="#b46ce0"/><path d="M426.02,467.87L429.77,471.87L426.02,475.87L422.27,471.87Z" fill="#b46ce0"/><path d="M431.77,467.93L435.52,471.93L431.77,475.93L428.02,471.93Z" fill="#b46ce0"/><path d="M437.53,468.00L441.28,472.00L437.53,476.00L433.78,472.00Z" fill="#b46ce0"/><path d="M443.28,468.00L447.03,472.00L443.28,476.00L439.53,472.00Z" fill="#b46ce0"/><path d="M449.04,468.00L452.79,472.00L449.04,476.00L445.29,472.00Z" fill="#b46ce0"/><path d="M454.79,468.00L458.54,472.00L454.79,476.00L451.04,472.00Z" fill="#b46ce0"/><path d="M460.55,468.00L464.30,472.00L460.55,476.00L456.80,472.00Z" fill="#b46ce0"/><path d="M466.30,468.00L470.05,472.00L466.30,476.00L462.55,472.00Z" fill="#b46ce0"/><path d="M472.06,468.00L475.81,472.00L472.06,476.00L468.31,472.00Z" fill="#b46ce0"/><path d="M477.81,468.00L481.56,472.00L477.81,476.00L474.06,472.00Z" fill="#b46ce0"/><path d="M483.57,468.00L487.32,472.00L483.57,476.00L479.82,472.00Z" fill="#b46ce0"/><path d="M489.32,468.00L493.07,472.00L489.32,476.00L485.57,472.00Z" fill="#b46ce0"/><path d="M497.23,468.00L500.98,472.00L497.23,476.00L493.48,472.00Z" fill="#b46ce0"/><path d="M505.16,468.00L508.91,472.00L505.16,476.00L501.41,472.00Z" fill="#b46ce0"/><path d="M513.09,468.00L516.84,472.00L513.09,476.00L509.34,472.00Z" fill="#b46ce0"/><path d="M521.02,468.00L524.77,472.00L521.02,476.00L517.27,472.00Z" fill="#b46ce0"/><path d="M528.95,468.00L532.70,472.00L528.95,476.00L525.20,472.00Z" fill="#b46ce0"/><path d="M536.88,468.00L540.63,472.00L536.88,476.00L533.13,472.00Z" fill="#b46ce0"/><path d="M544.81,468.00L548.56,472.00L544.81,476.00L541.06,472.00Z" fill="#b46ce0"/><path d="M552.74,468.00L556.49,472.00L552.74,476.00L548.99,472.00Z" fill="#b46ce0"/><path d="M560.67,468.00L564.42,472.00L560.67,476.00L556.92,472.00Z" fill="#b46ce0"/><path d="M568.60,468.00L572.35,472.00L568.60,476.00L564.85,472.00Z" fill="#b46ce0"/><path d="M576.53,468.00L580.28,472.00L576.53,476.00L572.78,472.00Z" fill="#b46ce0"/><path d="M584.46,468.00L588.21,472.00L584.46,476.00L580.71,472.00Z" fill="#b46ce0"/><path d="M592.39,468.00L596.14,472.00L592.39,476.00L588.64,472.00Z" fill="#b46ce0"/><path d="M600.32,468.00L604.07,472.00L600.32,476.00L596.57,472.00Z" fill="#b46ce0"/><path d="M608.25,468.00L612.00,472.00L608.25,476.00L604.50,472.00Z" fill="#b46ce0"/><path d="M616.18,468.00L619.93,472.00L616.18,476.00L612.43,472.00Z" fill="#b46ce0"/><path d="M624.11,468.00L627.86,472.00L624.11,476.00L620.36,472.00Z" fill="#b46ce0"/><path d="M632.04,468.00L635.79,472.00L632.04,476.00L628.29,472.00Z" fill="#b46ce0"/><path d="M639.97,468.00L643.72,472.00L639.97,476.00L636.22,472.00Z" fill="#b46ce0"/><path d="M647.90,468.00L651.65,472.00L647.90,476.00L644.15,472.00Z" fill="#b46ce0"/><path d="M655.83,468.00L659.58,472.00L655.83,476.00L652.08,472.00Z" fill="#b46ce0"/><path d="M663.76,468.00L667.51,472.00L663.76,476.00L660.01,472.00Z" fill="#b46ce0"/><path d="M671.69,468.00L675.44,472.00L671.69,476.00L667.94,472.00Z" fill="#b46ce0"/>
</g>
<g stroke="#000" stroke-width="1.6" fill="none">
<path d="M92.40,7.30 L92.40,475.00 L673.20,475.00" stroke-linecap="square"/>
</g>
<g stroke="#000" stroke-width="1.6">
<line x1="83.40" y1="472.10" x2="92.40" y2="472.10"/>
<text x="77.5" y="478.30" text-anchor="end" class="tl">0</text>
<line x1="83.40" y1="394.75" x2="92.40" y2="394.75"/>
<text x="77.5" y="400.95" text-anchor="end" class="tl">5000</text>
<line x1="83.40" y1="317.40" x2="92.40" y2="317.40"/>
<text x="77.5" y="323.60" text-anchor="end" class="tl">10000</text>
<line x1="83.40" y1="240.05" x2="92.40" y2="240.05"/>
<text x="77.5" y="246.25" text-anchor="end" class="tl">15000</text>
<line x1="83.40" y1="162.70" x2="92.40" y2="162.70"/>
<text x="77.5" y="168.90" text-anchor="end" class="tl">20000</text>
<line x1="83.40" y1="85.35" x2="92.40" y2="85.35"/>
<text x="77.5" y="91.55" text-anchor="end" class="tl">25000</text>
<line x1="83.40" y1="8.00" x2="92.40" y2="8.00"/>
<text x="77.5" y="14.20" text-anchor="end" class="tl">30000</text>
<line x1="87.90" y1="433.43" x2="92.40" y2="433.43"/>
<line x1="87.90" y1="356.08" x2="92.40" y2="356.08"/>
<line x1="87.90" y1="278.73" x2="92.40" y2="278.73"/>
<line x1="87.90" y1="201.38" x2="92.40" y2="201.38"/>
<line x1="87.90" y1="124.02" x2="92.40" y2="124.02"/>
<line x1="87.90" y1="46.68" x2="92.40" y2="46.68"/>
<line x1="178.90" y1="475.00" x2="178.90" y2="484.00"/>
<text x="178.10" y="506.3" text-anchor="middle" class="tl">0.1</text>
<line x1="302.48" y1="475.00" x2="302.48" y2="484.00"/>
<text x="301.68" y="506.3" text-anchor="middle" class="tl">0.2</text>
<line x1="426.05" y1="475.00" x2="426.05" y2="484.00"/>
<text x="425.25" y="506.3" text-anchor="middle" class="tl">0.3</text>
<line x1="549.63" y1="475.00" x2="549.63" y2="484.00"/>
<text x="548.83" y="506.3" text-anchor="middle" class="tl">0.4</text>
<line x1="673.20" y1="475.00" x2="673.20" y2="484.00"/>
<text x="672.40" y="506.3" text-anchor="middle" class="tl">0.5</text>
<line x1="117.11" y1="475.00" x2="117.11" y2="479.50"/>
<line x1="240.69" y1="475.00" x2="240.69" y2="479.50"/>
<line x1="364.26" y1="475.00" x2="364.26" y2="479.50"/>
<line x1="487.84" y1="475.00" x2="487.84" y2="479.50"/>
<line x1="611.41" y1="475.00" x2="611.41" y2="479.50"/>
</g>
<rect x="407.9" y="10.4" width="265.6" height="112.7" fill="#fff" stroke="#777" stroke-width="1.1"/>
<line x1="410" y1="23.50" x2="450" y2="23.50" stroke="#4d4d4d" stroke-opacity="0.32" stroke-width="1.5"/>
<rect x="427.30" y="20.15" width="5.80" height="5.80" fill="#4d4d4d"/>
<text x="454.8" y="28.70" class="lg">concrete</text>
<line x1="410" y1="45.00" x2="450" y2="45.00" stroke="#f23c3c" stroke-opacity="0.32" stroke-width="1.5"/>
<circle cx="430.20" cy="45.00" r="3.1" fill="#f23c3c"/>
<text x="454.8" y="50.70" class="lg">LDPE- 5% 100 nanometer W</text>
<line x1="410" y1="67.00" x2="450" y2="67.00" stroke="#1b65e4" stroke-opacity="0.32" stroke-width="1.5"/>
<path d="M430.20,63.00L433.75,69.60L426.65,69.60Z" fill="#1b65e4"/>
<text x="454.8" y="72.70" class="lg">LDPE- 10% 100 nanometer W</text>
<line x1="410" y1="89.00" x2="450" y2="89.00" stroke="#2ba35c" stroke-opacity="0.32" stroke-width="1.5"/>
<path d="M430.20,92.90L434.05,86.40L426.35,86.40Z" fill="#2ba35c"/>
<text x="454.8" y="94.70" class="lg">LDPE- 15% 100 nanometer W</text>
<line x1="410" y1="111.00" x2="450" y2="111.00" stroke="#b46ce0" stroke-opacity="0.32" stroke-width="1.5"/>
<path d="M430.20,107.10L433.95,111.10L430.20,115.10L426.45,111.10Z" fill="#b46ce0"/>
<text x="454.8" y="116.70" class="lg">LDPE- 20% 100 nanometer W</text>
<text x="383.4" y="545.0" text-anchor="middle" class="ti" style="font-size:24.3px">Energy (MeV)</text>
<text transform="translate(17.2,241.9) rotate(-90)" x="0" y="0" text-anchor="middle" class="ti" style="font-size:24px;letter-spacing:0.24px">Number of Photons</text>
</svg>
</body></html>
